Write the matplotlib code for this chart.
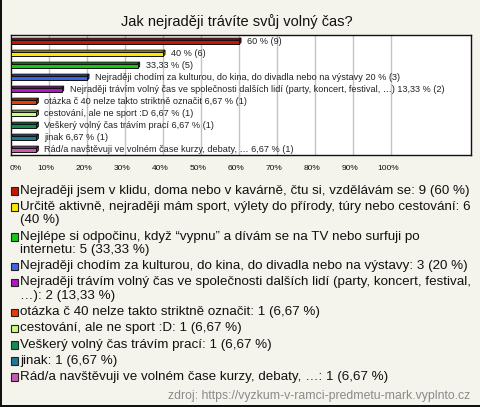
import matplotlib
matplotlib.use("Agg")
import matplotlib.pyplot as plt
import matplotlib.transforms as mtransforms
from matplotlib.patches import Rectangle, Polygon

plt.rcParams["font.family"] = ["Liberation Sans", "DejaVu Sans"]

# data
title = "Jak nejraději trávíte svůj volný čas?"
answers = [
    "Nejraději jsem v klidu, doma nebo v kavárně, čtu si, vzdělávám se",
    "Určitě aktivně, nejraději mám sport, výlety do přírody, túry nebo cestování",
    "Nejlépe si odpočinu, když “vypnu” a dívám se na TV nebo surfuji po internetu",
    "Nejraději chodím za kulturou, do kina, do divadla nebo na výstavy",
    "Nejraději trávím volný čas ve společnosti dalších lidí (party, koncert, festival, …)",
    "otázka č 40 nelze takto striktně označit",
    "cestování, ale ne sport :D",
    "Veškerý volný čas trávím prací",
    "jinak",
    "Rád/a navštěvuji ve volném čase kurzy, debaty, …",
]
counts = [9, 6, 5, 3, 2, 1, 1, 1, 1, 1]
percents = [60, 40, 33.33, 20, 13.33, 6.67, 6.67, 6.67, 6.67, 6.67]
colors = ["#c81400", "#ffe600", "#14c814", "#3c64e6", "#b414c8",
          "#e63c00", "#c8ff78", "#148c50", "#1e7896", "#c85ab4"]
ticks = list(range(0, 101, 10))
source = "zdroj: https://vyzkum-v-ramci-predmetu-mark.vyplnto.cz"

W, H = 480, 407
BG = "#f4f3ec"
fig = plt.figure(figsize=(W / 100, H / 100), dpi=100, facecolor=BG)
renderer = fig.canvas.get_renderer()


def fx(x):
    return x / W


def fy(y):
    return 1 - y / H


def text_width(s, size):
    t = fig.text(0, 0, s, fontsize=size)
    w = t.get_window_extent(renderer).width
    t.remove()
    return w


def wrap(s, size, maxw):
    words = s.split(" ")
    lines, cur = [], words[0]
    for w in words[1:]:
        if text_width(cur + " " + w, size) <= maxw:
            cur += " " + w
        else:
            lines.append(cur)
            cur = w
    lines.append(cur)
    return lines


def pct(p):
    return f"{p:g}".replace(".", ",")


def shade(c, k):
    r, g, b = matplotlib.colors.to_rgb(c)
    return (r * k, g * k, b * k)


fig.text(fx(237), fy(22), title, fontsize=10.5, ha="center", va="center", color="#111")

# plot area
ax_l, ax_r, ax_t, ax_b = 11, 471, 35, 155
ax = fig.add_axes([fx(ax_l), fy(ax_b), (ax_r - ax_l) / W, (ax_b - ax_t) / H])
ax.set_facecolor("white")
unit = 3.8  # px per percent
xmax = (ax_r - ax_l) / unit
ax.set_xlim(0, xmax)
row_px = 12
top_off = 6.3 / row_px
ax.set_ylim(len(counts) - top_off, -top_off)
for t in ticks[1:]:
    ax.axvline(t, color="#c4c4c4", lw=1, zorder=0)
for s in ax.spines.values():
    s.set_color("#111")
    s.set_linewidth(1)
ax.set_yticks([])
ax.set_xticks(ticks)
ax.set_xticklabels([f"{t}%" for t in ticks], fontsize=6)
ax.tick_params(axis="x", length=0, pad=7, colors="#111")
for k, lab in enumerate(ax.get_xticklabels()):
    shift = 4.5 if k == 0 else -3
    lab.set_transform(lab.get_transform() + mtransforms.ScaledTranslation(shift / 100, 0, fig.dpi_scale_trans))

dx = 2 / unit
dy = 2 / row_px
h = 4.3 / row_px
label_size = 6.6
for i, (p, c) in enumerate(zip(percents, colors)):
    yc = i + 1 / row_px
    top, bot = yc - h / 2, yc + h / 2
    ax.add_patch(Polygon([(0, top), (p, top), (p + dx, top - dy), (dx, top - dy)],
                         closed=True, facecolor=shade(c, 0.8), edgecolor="#111", lw=0.7, zorder=2))
    ax.add_patch(Polygon([(p, top), (p + dx, top - dy), (p + dx, bot - dy), (p, bot)],
                         closed=True, facecolor=shade(c, 0.6), edgecolor="#111", lw=0.7, zorder=2))
    ax.add_patch(Rectangle((0, top), p, h, facecolor=c, edgecolor="#111", lw=0.7, zorder=3))
    x0 = p + dx + 6 / unit
    short = f"{pct(p)} % ({counts[i]})"
    full = f"{answers[i]} {short}"
    avail = ax_r - 2 - (ax_l + x0 * unit)
    lab = full if text_width(full, label_size) <= avail else short
    ax.text(x0, i, lab, fontsize=label_size, va="center", ha="left", color="#222", zorder=4)

# legend below
leg_size = 9.6
item_step = 16.2
wrap_step = 13.5
y = 190.7
for i, (a, c) in enumerate(zip(answers, colors)):
    s = f"{a}: {counts[i]} ({pct(percents[i])} %)"
    lines = wrap(s, leg_size, 455)
    fig.patches.append(Rectangle((fx(10.5), fy(y + 4)), 7.5 / W, 7.5 / H, transform=fig.transFigure,
                                 facecolor=c, edgecolor="#222", lw=0.8))
    for k, line in enumerate(lines):
        fig.text(fx(20), fy(y + k * wrap_step), line, fontsize=leg_size, va="center", ha="left", color="#111")
    y += (len(lines) - 1) * wrap_step + item_step

fig.text(fx(470), fy(395.7), source, fontsize=8.8, ha="right", va="center", color="#8a8a8a")

# outer frame (left + bottom)
fig.patches.append(Rectangle((0, 0), 1.6 / W, 1, transform=fig.transFigure, facecolor="#111", lw=0))
fig.patches.append(Rectangle((0, 0), 1, 2 / H, transform=fig.transFigure, facecolor="#111", lw=0))

fig.savefig("out.png", dpi=100, facecolor=BG)
